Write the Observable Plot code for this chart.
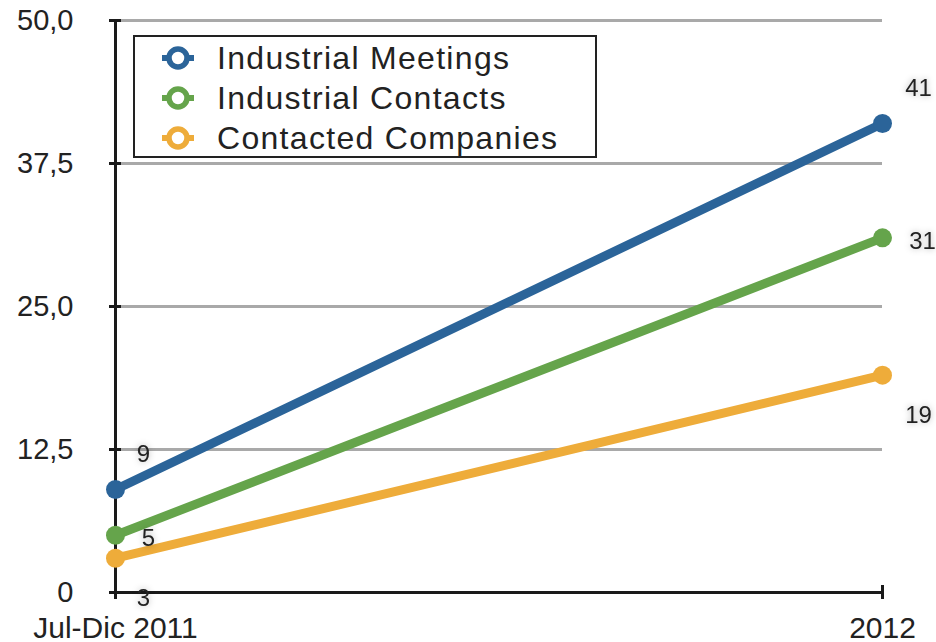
<!DOCTYPE html>
<html>
<head>
<meta charset="utf-8">
<script src="https://cdn.jsdelivr.net/npm/d3@7"></script>
<script src="https://cdn.jsdelivr.net/npm/@observablehq/plot@0.6"></script>
<style>
  html, body { margin: 0; padding: 0; background: #fff; }
  #wrap { position: relative; width: 936px; height: 642px; font-family: "Liberation Sans", Arial, sans-serif; }
  #legend { position: absolute; left: 133px; top: 35px; width: 460px; height: 119px; border: 2.5px solid #222; background: #fff; }
  .row { position: absolute; left: 0; height: 40px; display: flex; align-items: center; font-size: 32px; letter-spacing: 1.3px; color: #222; }
  .row svg { margin-left: 26px; margin-right: 22px; }
</style>
</head>
<body>
<div id="wrap"></div>
<script>
const periods = ["Jul-Dic 2011", "2012"];
const seriesNames = ["Industrial Meetings", "Industrial Contacts", "Contacted Companies"];
const meetings = [9, 41];
const contacts = [5, 31];
const companies = [3, 19];
const yTicks = [0, 12.5, 25, 37.5, 50];
const colors = ["#2b6499", "#65a44b", "#eeac3a"];

const seriesValues = [meetings, contacts, companies];
const data = [];
seriesNames.forEach((s, i) => periods.forEach((p, j) => data.push({series: s, period: p, value: seriesValues[i][j]})));

// label placement (style only)
const labelDy = [-35, 3, 40];
const labelDx = [[28, 36], [33, 40], [28, 36]];

const marks = [
  Plot.ruleY(yTicks.filter(d => d > 0), {y: d => d, x1: () => periods[0], x2: () => periods[1], stroke: "#a9a9a9", strokeWidth: 3}),
  Plot.ruleX([periods[0]], {x: d => d, y1: 0, y2: 50, stroke: "#1a1a1a", strokeWidth: 3}),
  Plot.ruleY([0], {y: d => d, x1: () => periods[0], x2: () => periods[1], stroke: "#1a1a1a", strokeWidth: 3}),
  Plot.axisY({ticks: yTicks, tickSize: 12, dx: 6, tickPadding: 36, strokeWidth: 3, stroke: "#1a1a1a",
    fontSize: 29, fill: "#222", label: null,
    tickFormat: d => d === 0 ? "0" : d.toFixed(1).replace(".", ",")}),
  Plot.axisX({tickSize: 14, dy: -7, tickPadding: 17, strokeWidth: 3, stroke: "#1a1a1a", fontSize: 30, fill: "#222", label: null})
];
seriesNames.forEach((s, i) => {
  const d = data.filter(r => r.series === s);
  marks.push(Plot.line(d, {x: "period", y: "value", stroke: colors[i], strokeWidth: 9, strokeLinecap: "round"}));
  marks.push(Plot.dot(d, {x: "period", y: "value", r: 9.5, fill: colors[i]}));
});
seriesNames.forEach((s, i) => {
  periods.forEach((p, j) => {
    const d = data.filter(r => r.series === s && r.period === p);
    marks.push(Plot.text(d, {x: "period", y: "value", text: r => String(r.value), dx: labelDx[i][j], dy: labelDy[i],
      fontSize: 24, fill: "#222", textAnchor: "middle"}));
  });
});

const chart = Plot.plot({
  width: 936, height: 642,
  marginLeft: 115, marginRight: 54, marginTop: 20, marginBottom: 50,
  x: {type: "point", domain: periods, padding: 0, label: null},
  y: {domain: [0, 50], label: null},
  style: {fontFamily: "'Liberation Sans', Arial, sans-serif", background: "#fff", overflow: "visible"},
  marks
});
chart.querySelectorAll('g[aria-label="text"] text').forEach(t => {
  t.style.filter = "drop-shadow(0 0 3px rgba(0,0,0,0.3))";
});
const wrap = document.getElementById("wrap");
wrap.appendChild(chart);

const legend = document.createElement("div");
legend.id = "legend";
seriesNames.forEach((s, i) => {
  const row = document.createElement("div");
  row.className = "row";
  row.style.top = (1 + i * 40) + "px";
  row.innerHTML = `<svg width="34" height="26" viewBox="0 0 34 26">
    <line x1="1" y1="13" x2="33" y2="13" stroke="${colors[i]}" stroke-width="6"/>
    <circle cx="17" cy="13" r="9" fill="#fff" stroke="${colors[i]}" stroke-width="5.5"/>
  </svg><span>${s}</span>`;
  legend.appendChild(row);
});
wrap.appendChild(legend);
</script>
</body>
</html>
